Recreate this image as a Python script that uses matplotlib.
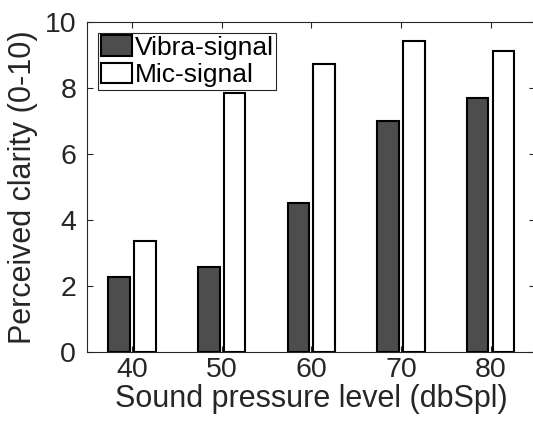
import matplotlib
matplotlib.use("Agg")
import matplotlib.pyplot as plt
import numpy as np

levels = [40, 50, 60, 70, 80]
vibra = [2.25, 2.56, 4.50, 6.99, 7.69]
mic = [3.36, 7.85, 8.73, 9.41, 9.12]
series_names = ["Vibra-signal", "Mic-signal"]
yticks = [0, 2, 4, 6, 8, 10]

plt.rcParams['font.family'] = ['Liberation Sans', 'DejaVu Sans']
axc = '#262626'

fig = plt.figure(figsize=(5.33, 4.22), dpi=100)
ax = fig.add_axes([87.3/533, 70.5/422, 448/533, 329.5/422])

x = np.array(levels, dtype=float)
w = 2.39
off = 1.44
ax.bar(x - off, vibra, width=w, color='#4d4d4d', edgecolor='black', linewidth=1.5, label=series_names[0], zorder=3)
ax.bar(x + off, mic, width=w, color='white', edgecolor='black', linewidth=1.5, label=series_names[1], zorder=3)

ax.set_xlim(35, 85)
ax.set_ylim(0, 10)
ax.set_xticks(levels)
ax.set_yticks(yticks)
ax.tick_params(direction='in', length=4, width=0.8, color=axc, labelcolor=axc,
               labelsize=20.5, top=True, right=True)
ax.tick_params(axis='x', pad=4)
ax.tick_params(axis='y', pad=8)
for s in ax.spines.values():
    s.set_color(axc)
    s.set_linewidth(0.8)

ax.set_xlabel("Sound pressure level (dbSpl)", fontsize=22, color=axc, labelpad=1)
ax.set_ylabel("Perceived clarity (0-10)", fontsize=22, color=axc, labelpad=5)

leg = ax.legend(loc='upper left', bbox_to_anchor=(0.0246, 0.9675), borderaxespad=0,
                fontsize=19, frameon=True, fancybox=False, framealpha=1,
                handlelength=1.17, handleheight=0.8, handletextpad=0.1,
                labelspacing=0.13, borderpad=0.1)
leg.get_frame().set_edgecolor(axc)
leg.get_frame().set_linewidth(0.8)
for t in leg.get_texts():
    t.set_color('black')

fig.savefig("out.png", dpi=100)
